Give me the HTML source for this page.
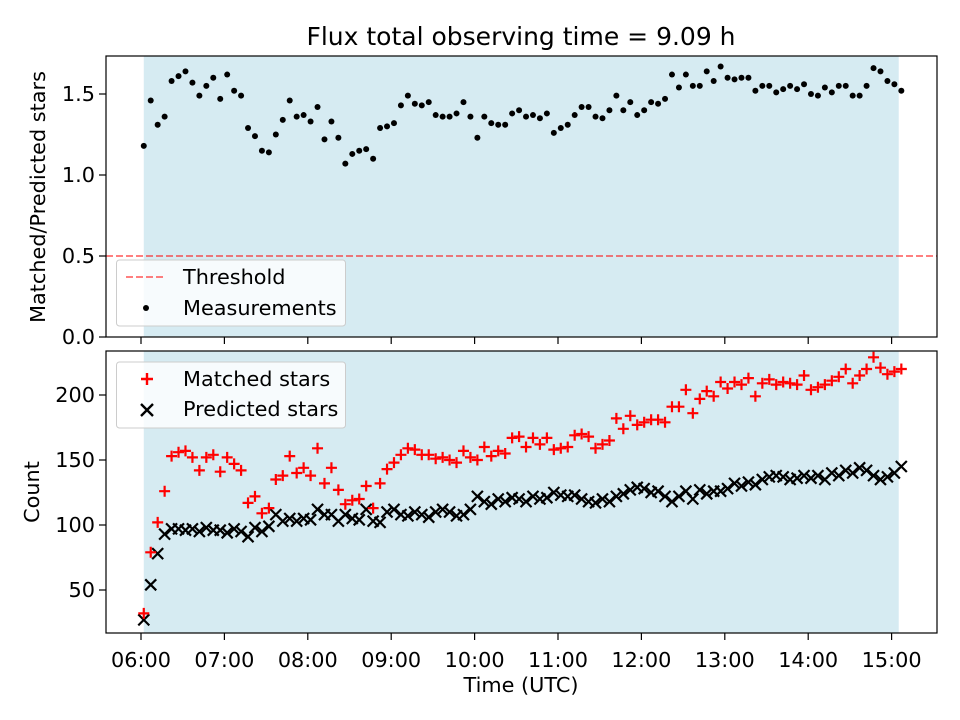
<!DOCTYPE html>
<html><head><meta charset="utf-8"><style>
body{margin:0;background:#fff;}
svg{display:block;font-family:"DejaVu Sans","Liberation Sans",sans-serif;}
</style></head><body>
<svg id="fig" width="960" height="720" viewBox="0 0 960 720"></svg>
<script>
const ratioValues=[1.18,1.46,1.31,1.36,1.58,1.61,1.64,1.57,1.49,1.55,
1.60,1.47,1.62,1.52,1.49,1.29,1.24,1.15,1.14,1.25,
1.34,1.46,1.36,1.37,1.33,1.42,1.22,1.33,1.23,1.07,
1.13,1.15,1.16,1.10,1.29,1.30,1.32,1.43,1.49,1.44,
1.43,1.45,1.37,1.36,1.36,1.38,1.45,1.36,1.23,1.36,
1.32,1.31,1.31,1.38,1.40,1.36,1.37,1.35,1.38,1.26,
1.29,1.31,1.37,1.42,1.42,1.36,1.35,1.40,1.49,1.40,
1.45,1.37,1.40,1.45,1.44,1.47,1.62,1.54,1.62,1.55,
1.55,1.64,1.58,1.67,1.60,1.59,1.60,1.60,1.52,1.55,
1.55,1.51,1.53,1.55,1.53,1.56,1.50,1.49,1.54,1.51,
1.55,1.55,1.49,1.49,1.55,1.66,1.64,1.58,1.56,1.52];
const predictedValues=[27,54,78,93,97,97,96,97,95,98,
96,96,94,97,95,91,98,95,99,108,
103,105,103,105,104,112,108,108,103,108,
105,104,112,103,102,110,112,108,107,110,
108,106,110,112,110,107,108,112,122,118,
116,120,118,121,120,118,122,120,121,125,
123,122,123,120,118,117,120,118,122,124,
127,129,128,125,126,122,118,122,126,120,
127,124,126,126,128,132,130,133,131,135,
137,138,137,135,136,138,136,138,135,140,
138,142,140,144,142,138,135,137,140,145];
const matchedValues=[32,79,102,126,153,156,157,152,142,152,
154,141,152,147,142,117,122,109,113,135,
138,153,140,144,138,159,132,144,127,116,
119,120,130,113,132,143,148,154,159,158,
154,154,151,152,150,148,157,152,150,160,
153,157,155,167,168,160,167,162,167,158,
159,160,169,170,168,159,162,165,182,174,
184,177,179,181,181,179,191,191,204,186,
197,203,199,210,205,210,208,213,199,209,
212,208,210,209,208,215,204,206,208,211,
214,220,209,215,220,229,221,216,218,220];
const startMinute=362; // 06:02 UTC
const stepMinutes=5;
const spanStart=362, spanEnd=908;
const threshold=0.5;
const timeTicks=[360,420,480,540,600,660,720,780,840,900];
const timeTickLabels=["06:00","07:00","08:00","09:00","10:00","11:00","12:00","13:00","14:00","15:00"];
const ratioTicks=[0,0.5,1.0,1.5];
const countTicks=[50,100,150,200];

const NS="http://www.w3.org/2000/svg";
const svg=document.getElementById('fig');
function mk(tag,attrs,parent){const e=document.createElementNS(NS,tag);for(const k in attrs)e.setAttribute(k,attrs[k]);(parent||svg).appendChild(e);return e;}
const L=106,R=937;
const FS=20.8;
const xs=t=>141+(t-360)*83.4/60;
const yTop=v=>337-v*162;
const yBot=v=>590-(v-50)*1.3;
const panels=[{t:56,b:337,name:'ratio-panel'},{t:351,b:633,name:'count-panel'}];

let e=mk('text',{x:521,y:45,'text-anchor':'middle','font-size':25,fill:'#000'});
e.textContent='Flux total observing time = 9.09 h';



panels.forEach((p,pi)=>{
  const g=mk('g',{});
  
  
  const sp=mk('rect',{x:xs(spanStart),y:p.t,width:xs(spanEnd)-xs(spanStart)-4,height:p.b-p.t,fill:'#add8e6','fill-opacity':0.5},g);
  
  
});

e=mk('line',{x1:L,x2:R,y1:yTop(threshold),y2:yTop(threshold),stroke:'#ff0000','stroke-opacity':0.5,'stroke-width':2,'stroke-dasharray':'7,3'});


ratioValues.forEach((v,i)=>{
  const c=mk('circle',{cx:xs(startMinute+i*stepMinutes),cy:yTop(v),r:3,fill:'#000'});
  
  
});
predictedValues.forEach((v,i)=>{
  const x=xs(startMinute+i*stepMinutes),y=yBot(v),s=5.5;
  const p=mk('path',{d:`M${x-s},${y-s}L${x+s},${y+s}M${x-s},${y+s}L${x+s},${y-s}`,stroke:'#000','stroke-width':2.2,fill:'none'});
  
  
});
matchedValues.forEach((v,i)=>{
  const x=xs(startMinute+i*stepMinutes),y=yBot(v),s=5.5;
  const p=mk('path',{d:`M${x-s},${y}L${x+s},${y}M${x},${y-s}L${x},${y+s}`,stroke:'#ff0000','stroke-width':2.2,fill:'none'});
  
  
});

panels.forEach((p,pi)=>{
  const f=mk('rect',{x:L,y:p.t,width:R-L,height:p.b-p.t,fill:'none',stroke:'#000','stroke-width':1.2});
  
  
  timeTicks.forEach((t,i)=>{
    mk('line',{x1:xs(t),x2:xs(t),y1:p.b,y2:p.b+7,stroke:'#000','stroke-width':1.2});
    if(pi===1){
      const tx=mk('text',{x:xs(t),y:p.b+34,'text-anchor':'middle','font-size':FS,fill:'#000'});
      tx.textContent=timeTickLabels[i];
      
      
    }
  });
});
ratioTicks.forEach(v=>{
  mk('line',{x1:L-7,x2:L,y1:yTop(v),y2:yTop(v),stroke:'#000','stroke-width':1.2});
  const tx=mk('text',{x:L-11,y:yTop(v)+7,'text-anchor':'end','font-size':FS,fill:'#000'});
  tx.textContent=v.toFixed(1);
  
  
});
countTicks.forEach(v=>{
  mk('line',{x1:L-7,x2:L,y1:yBot(v),y2:yBot(v),stroke:'#000','stroke-width':1.2});
  const tx=mk('text',{x:L-11,y:yBot(v)+7,'text-anchor':'end','font-size':FS,fill:'#000'});
  tx.textContent=String(v);
  
  
});
e=mk('text',{x:0,y:0,'text-anchor':'middle','font-size':FS,fill:'#000',transform:'translate(45,197) rotate(-90)'});
e.textContent='Matched/Predicted stars';


e=mk('text',{x:0,y:0,'text-anchor':'middle','font-size':FS,fill:'#000',transform:'translate(39,492) rotate(-90)'});
e.textContent='Count';


e=mk('text',{x:521,y:692,'text-anchor':'middle','font-size':FS,fill:'#000'});
e.textContent='Time (UTC)';



function legend(y,name){
  const g=mk('g',{});
  
  
  mk('rect',{x:116.5,y:y,width:229,height:66,rx:3,fill:'#fff','fill-opacity':0.8,stroke:'#ccc','stroke-width':1},g);
  return g;
}
let lg=legend(260,'ratio-legend');
mk('line',{x1:126,x2:166,y1:277,y2:277,stroke:'#ff0000','stroke-opacity':0.5,'stroke-width':2,'stroke-dasharray':'7,3'},lg);
e=mk('text',{x:183,y:284,'font-size':FS,fill:'#000'},lg);e.textContent='Threshold';


mk('circle',{cx:146,cy:308,r:3,fill:'#000'},lg);
e=mk('text',{x:183,y:315,'font-size':FS,fill:'#000'},lg);e.textContent='Measurements';


lg=legend(362,'count-legend');
mk('path',{d:'M141,379L153,379M147,373L147,385',stroke:'#ff0000','stroke-width':2.4},lg);
e=mk('text',{x:183,y:386,'font-size':FS,fill:'#000'},lg);e.textContent='Matched stars';


mk('path',{d:'M141,404L153,416M141,416L153,404',stroke:'#000','stroke-width':2.4},lg);
e=mk('text',{x:183,y:416,'font-size':FS,fill:'#000'},lg);e.textContent='Predicted stars';


</script>
</body></html>
